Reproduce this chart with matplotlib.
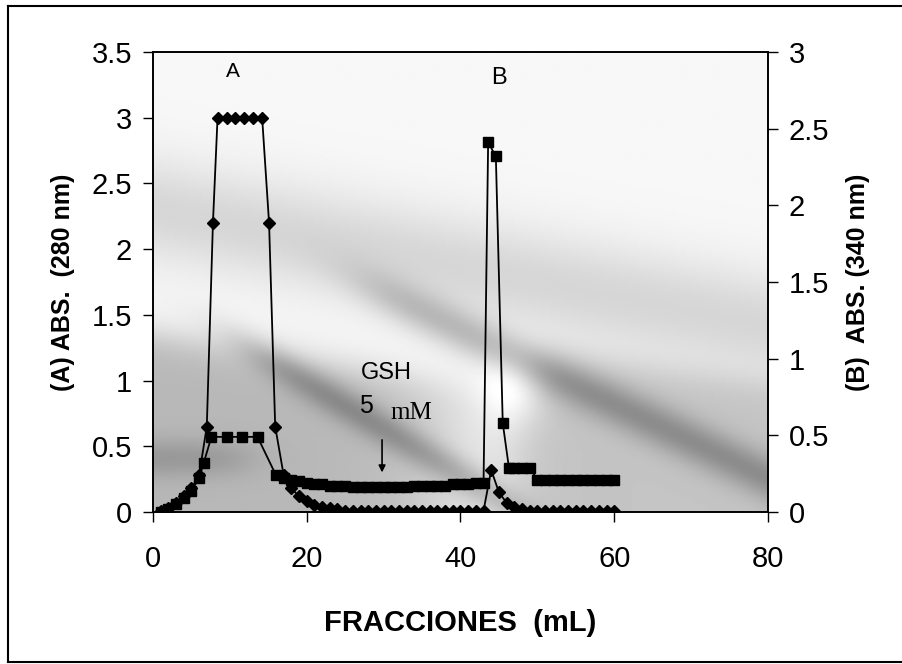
import numpy as np
import matplotlib.pyplot as plt
from matplotlib.lines import Line2D

plt.rcParams['font.family'] = ['Liberation Sans', 'DejaVu Sans']

# ==========================================================
# DATA
# ==========================================================

# Absorbance at 280 nm (left axis, diamonds)
frac_280 = [1, 2, 3, 4, 5, 6, 7, 7.8, 8.4, 9.6, 10.7, 11.9, 13.0, 14.2,
            15.1, 15.9, 17, 18, 19, 20, 21, 22, 23, 24, 25, 26, 27, 28,
            29, 30, 31, 32, 33, 34, 35, 36, 37, 38, 39, 40, 41, 42, 43,
            44, 45, 46, 47, 48, 49, 50, 51, 52, 53, 54, 55, 56, 57, 58,
            59, 60]
abs_280 = [0.01, 0.03, 0.07, 0.12, 0.18, 0.28, 0.65, 2.2, 3.0, 3.0, 3.0,
           3.0, 3.0, 3.0, 2.2, 0.65, 0.28, 0.18, 0.12, 0.08, 0.05, 0.04,
           0.03, 0.02, 0.01, 0.01, 0.01, 0.01, 0.01, 0.01, 0.01, 0.01,
           0.01, 0.01, 0.01, 0.01, 0.01, 0.01, 0.01, 0.01, 0.01, 0.01,
           0.01, 0.32, 0.15, 0.07, 0.04, 0.02, 0.01, 0.01, 0.01, 0.01,
           0.01, 0.01, 0.01, 0.01, 0.01, 0.01, 0.01, 0.01]

# Absorbance at 340 nm (right axis, squares)
frac_340 = [1, 2, 3, 4, 5, 6, 6.6, 7.6, 9.6, 11.6, 13.6, 16, 17, 18, 19,
            20, 21, 22, 23, 24, 25, 26, 27, 28, 29, 30, 31, 32, 33, 34,
            35, 36, 37, 38, 39, 40, 41, 42, 43, 43.6, 44.6, 45.5, 46.3,
            47, 48, 49, 50, 51, 52, 53, 54, 55, 56, 57, 58, 59, 60]
abs_340 = [0.0, 0.02, 0.05, 0.09, 0.14, 0.22, 0.32, 0.49, 0.49, 0.49, 0.49,
           0.24, 0.22, 0.21, 0.2, 0.19, 0.18, 0.18, 0.17, 0.17, 0.17, 0.16,
           0.16, 0.16, 0.16, 0.16, 0.16, 0.16, 0.16, 0.17, 0.17, 0.17,
           0.17, 0.17, 0.18, 0.18, 0.18, 0.19, 0.19, 2.41, 2.32, 0.58,
           0.29, 0.29, 0.29, 0.29, 0.21, 0.21, 0.21, 0.21, 0.21, 0.21,
           0.21, 0.21, 0.21, 0.21, 0.21]

x_ticks = [0, 20, 40, 60, 80]
left_ticks = [0, 0.5, 1, 1.5, 2, 2.5, 3, 3.5]
right_ticks = [0, 0.5, 1, 1.5, 2, 2.5, 3]


def ramp(v, w):
    # smooth 0 -> 1 step
    return 1.0 / (1.0 + np.exp(-v / w))


# ==========================================================
# FIGURE
# ==========================================================

fig = plt.figure(figsize=(9.02, 6.64), dpi=100)
ax = fig.add_axes([0.1696, 0.2289, 0.6818, 0.6928])

# greyish scanned backdrop (smooth bands only)
gx, gy = np.meshgrid(np.linspace(0, 80, 400), np.linspace(0, 3.5, 200))
shade = np.full(gx.shape, 0.97)
shade -= 0.13 * np.exp(-((gy - (2.3 - 0.011 * gx)) / 0.4) ** 2)
shade -= 0.25 * ramp((1.35 - 0.01 * gx) - gy, 0.08) * ramp(38 - gx, 4)
shade -= 0.12 * np.exp(-((gy - 0.4) / 0.15) ** 2) * ramp(12 - gx, 2)
shade -= 0.20 * np.exp(-((gy - (1.15 - 0.035 * (gx - 15))) / 0.15) ** 2) \
    * ramp(gx - 12, 3) * ramp(48 - gx, 3)
shade -= 0.22 * np.exp(-((gy - (1.6 - 0.028 * (gx - 32))) / 0.18) ** 2) \
    * ramp(gx - 28, 3)
shade -= 0.20 * ramp((1.25 - 0.008 * (gx - 45)) - gy, 0.08) * ramp(gx - 47, 2)
shade += 0.15 * np.exp(-((gx - 47) / 4) ** 2 - ((gy - 0.95) / 0.3) ** 2)
shade = np.clip(shade, 0.45, 1.0)
ax.imshow(shade, extent=[0, 80, 0, 3.5], origin='lower', cmap='gray',
          vmin=0, vmax=1, aspect='auto', zorder=0, interpolation='bilinear')

ax.plot(frac_280, abs_280, color='black', lw=1.3, marker='D',
        markersize=6.5, zorder=3)

ax2 = ax.twinx()
ax2.plot(frac_340, abs_340, color='black', lw=1.3, marker='s',
         markersize=7.5, zorder=3)

ax.set_xlim(0, 80)
ax.set_ylim(0, 3.5)
ax2.set_ylim(0, 3)
ax.set_xticks(x_ticks)
ax.set_yticks(left_ticks)
ax2.set_yticks(right_ticks)
ax.set_xticklabels([str(t) for t in x_ticks])
ax.set_yticklabels(['0', '0.5', '1', '1.5', '2', '2.5', '3', '3.5'])
ax2.set_yticklabels(['0', '0.5', '1', '1.5', '2', '2.5', '3'])

for a in (ax, ax2):
    a.tick_params(labelsize=21, length=7, width=1, direction='out', pad=8)
    for s in a.spines.values():
        s.set_linewidth(1.2)
ax.tick_params(axis='x', pad=17)

ax.set_xlabel('FRACCIONES  (mL)', fontsize=21, fontweight='bold', labelpad=26)
ax.set_ylabel('(A) ABS.  (280 nm)', fontsize=18, fontweight='bold', labelpad=12)
ax2.set_ylabel('(B)  ABS. (340 nm)', fontsize=18, fontweight='bold', labelpad=12)

# annotations
ax.text(10.4, 3.35, 'A', fontsize=15, ha='center', va='center')
ax.text(45.0, 3.3, 'B', fontsize=17, ha='center', va='center')
ax.text(30.3, 1.06, 'GSH', fontsize=17, ha='center', va='center')
ax.text(27.7, 0.81, '5', fontsize=18, ha='center', va='center')
ax.text(33.6, 0.75, 'mM', fontsize=18, ha='center', va='center',
        family='Liberation Serif')
ax.annotate('', xy=(29.8, 0.28), xytext=(29.8, 0.57),
            arrowprops=dict(arrowstyle='-|>', color='black', lw=1.2,
                            mutation_scale=10))

# outer frame of the scanned page
for xs, ys in (([0.009, 1.0], [0.991, 0.991]),
               ([0.009, 0.009], [0.003, 0.991]),
               ([0.009, 1.0], [0.003, 0.003])):
    fig.add_artist(Line2D(xs, ys, color='black', lw=1.5,
                          transform=fig.transFigure))

fig.savefig('out.png', dpi=100)
